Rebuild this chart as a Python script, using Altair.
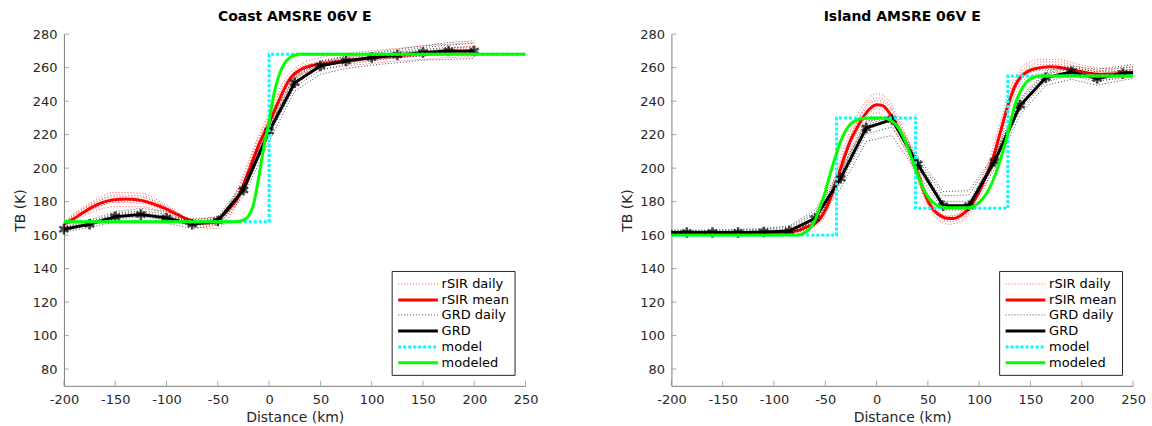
import altair as alt
import pandas as pd

# ---------------------------------------------------------------- series styling
SERIES = ["rSIR daily", "rSIR mean", "GRD daily", "GRD", "model", "modeled"]
COLORS = ["#ff0000", "#ff0000", "#000000", "#000000", "#00ffff", "#00ff00"]
DASHES = [[1, 2], [1, 0], [1, 2], [1, 0], [3, 2], [1, 0]]
WIDTHS = [0.7, 3, 0.7, 3, 3, 3]

X_DOMAIN = [-200, 250]
Y_DOMAIN = [70, 280]
X_TICKS = [-200, -150, -100, -50, 0, 50, 100, 150, 200, 250]
Y_TICKS = [80, 100, 120, 140, 160, 180, 200, 220, 240, 260, 280]

# ---------------------------------------------------------------- Coast panel
COAST_DAILY_X = [-200, -175, -150, -125, -100, -75, -50, -37.5, -25, -12.5, 0,
                 12.5, 25, 37.5, 50, 75, 100, 125, 150, 175, 200]
COAST_RSIR_DAILY = [
    [168, 179, 185.5, 185, 178, 170, 171, 180, 196, 216, 233, 250, 259.5, 264, 266, 268.5, 270, 271.5, 273, 274, 275],
    [165, 173, 177, 177, 172.5, 166, 166.5, 173, 186, 204, 221, 240, 253, 257.5, 259, 261, 262.5, 264, 265, 266, 266.5],
    [167, 177.5, 183, 182.5, 176.5, 168, 168, 175, 189, 208, 226, 246, 258, 262, 263.5, 265, 266.5, 268.5, 270, 271, 272],
    [166, 174.5, 179.5, 179, 174, 167, 167.5, 176.5, 192, 212, 229, 244, 254, 258.5, 260.5, 263, 264.5, 266, 267, 268, 268.5],
    [167.5, 178, 184, 183.5, 177, 169.5, 170, 179, 194, 214, 231, 248, 257.5, 261.5, 263, 266, 267.5, 269, 270, 271.5, 273],
    [165.5, 175, 180, 180, 175.5, 165, 164, 172, 187.5, 206, 224, 242, 255, 259.5, 261, 263, 265, 266, 267.5, 268, 269],
]
COAST_MEAN_X = [-200, -190, -180, -170, -160, -150, -140, -130, -120, -110, -100, -90, -80,
                -70, -60, -50, -40, -30, -20, -10, 0, 10, 20, 30, 40, 50, 60, 80, 100, 125,
                150, 175, 200]
COAST_RSIR_MEAN = [166.5, 170, 174, 177.5, 180, 181.2, 181.5, 181.2, 180, 178, 175.5, 172.5,
                   169.5, 167.5, 167.2, 169.5, 175, 183, 198, 214, 227, 241, 253, 258.5, 261,
                   262, 263, 264.5, 265.8, 267.2, 268.3, 269.2, 270]
COAST_GRD_X = [-200, -175, -150, -125, -100, -75, -50, -25, 0, 25, 50, 75, 100, 125, 150, 175, 200]
COAST_GRD = [163.5, 166.5, 171, 172.3, 170.3, 166.5, 168.5, 187, 222, 251, 261, 264, 266,
             267.5, 269, 270, 270]
COAST_GRD_DAILY = [
    [165, 169, 174, 176, 174, 169, 171, 191, 227, 255, 264, 267, 269, 271, 273, 275, 276],
    [162, 164.5, 168, 169, 167, 164, 166, 183, 216, 246, 256, 259.5, 261.5, 263, 264.5, 265, 265.5],
    [164, 167.5, 172.5, 173.5, 171.5, 167.5, 169.5, 188.5, 224, 253, 262.5, 265.5, 267.5, 269, 271, 272, 272.5],
    [163, 166, 169.5, 171, 169, 165.5, 167.5, 185.5, 219.5, 248.5, 258.5, 262, 264, 266, 267, 268, 268],
    [164.5, 168, 173, 174.5, 172.5, 168, 170, 189.5, 225, 254, 263.5, 266.5, 268.5, 270, 272, 273.5, 274.5],
]
COAST_MODEL_X = [-200, 0, 250]
COAST_MODEL = [168, 268, 268]
COAST_MODELED_X = [-200, -40, -30, -25, -20, -15, -10, -5, 0, 5, 10, 15, 20, 25, 30, 250]
COAST_MODELED = [168, 168, 168.2, 169, 171.5, 179, 195, 213, 228, 245, 256, 262.5, 265.8,
                 267.4, 268, 268]

# ---------------------------------------------------------------- Island panel
ISLAND_DAILY_X = [-200, -150, -100, -80, -60, -50, -40, -30, -20, -10, 0, 10, 20, 30, 40,
                  50, 60, 70, 80, 90, 100, 110, 120, 130, 140, 150, 160, 175, 200, 225, 250]
ISLAND_RSIR_DAILY = [
    [162, 162, 162.5, 164, 170, 179, 196, 215, 230, 240, 244.5, 242, 231, 218, 201, 183, 174,
     171, 173, 179, 190, 205, 226, 247, 259, 263.5, 265, 265, 261.5, 259.5, 260.5],
    [160.5, 160.5, 160.5, 161.5, 165, 172, 187, 204, 218, 228, 233, 230, 220, 208, 193, 177.5,
     169.5, 166.5, 167.5, 172.5, 182, 195, 214, 236, 250, 255, 256.5, 257, 254.5, 253, 254.5],
    [161.5, 161.5, 161.8, 163, 168.5, 177, 193, 211, 226, 236, 240.5, 238, 228, 215, 199, 182,
     174, 171.5, 172.5, 178, 188, 202, 222, 243, 256, 260, 262, 262, 259, 257.5, 258.5],
    [161, 161, 161, 162, 166, 173.5, 189, 207, 220.5, 230.5, 235.5, 232.5, 222.5, 210.5, 195,
     179, 171, 168, 169, 174, 184, 198, 218, 239, 252, 257, 258.5, 259, 256, 255, 256],
    [162, 162, 162.2, 163.5, 169, 177.5, 194, 212, 227, 237.5, 242, 239.5, 229.5, 216.5, 200,
     181.5, 172.5, 169, 170.5, 176.5, 187, 201.5, 221, 244, 257, 261.5, 263.5, 263.5, 260, 258, 259],
]
ISLAND_MEAN_X = [-200, -150, -100, -85, -75, -70, -65, -60, -55, -50, -45, -40, -35, -30, -25,
                 -20, -15, -10, -5, 0, 5, 10, 15, 20, 25, 30, 35, 40, 45, 50, 55, 60, 65, 70,
                 75, 80, 85, 90, 95, 100, 105, 110, 115, 120, 125, 130, 135, 140, 145, 150,
                 160, 170, 180, 190, 200, 210, 220, 230, 240, 250]
ISLAND_RSIR_MEAN = [161, 161, 161.2, 162, 163, 164.5, 165.5, 167, 170, 175, 182, 191, 200, 209,
                    217, 223, 228.5, 233, 236.3, 237.8, 237.5, 235, 230.5, 225, 219, 213, 206,
                    197, 188, 180.5, 175.5, 172.5, 170.7, 170, 170, 171, 173, 176, 180.5, 186,
                    193, 200, 209, 220, 231, 241, 249, 254, 256.8, 258.5, 260, 260.5, 260,
                    258.8, 257.5, 256.5, 256, 256.2, 256.8, 257.3]
ISLAND_GRD_X = [-200, -185, -160, -135, -110, -85, -60, -35, -10, 15, 40, 65, 90, 115, 140,
                165, 190, 215, 240, 250]
ISLAND_GRD = [161.5, 161.5, 161.5, 161.5, 161.8, 162.5, 170, 194, 224, 229, 202.5, 177.5,
              177.5, 204, 237.5, 254, 257.5, 253.5, 256.5, 257]
ISLAND_GRD_MARKED = ISLAND_GRD_X[1:-1]
ISLAND_GRD_DAILY = [
    [163, 163, 163, 163.5, 164, 165.5, 175, 199, 227, 232, 207, 186, 186.5, 208, 242, 258, 261, 259, 261, 262],
    [160.5, 160.5, 160.5, 160.5, 160.8, 161.5, 166, 188, 216, 219.5, 197, 175, 175, 199.5, 232, 249.5, 253, 249.5, 252.5, 253.5],
    [162.3, 162.3, 162.3, 162.5, 162.8, 163.8, 172.5, 196.5, 226, 230.5, 204.5, 180, 180, 206, 240, 256, 259.5, 256, 258.5, 259],
    [161, 161, 161, 161, 161.3, 162, 168, 191, 220.5, 224.5, 200, 176.5, 176.5, 202, 235, 251.5, 255.5, 251.5, 254.5, 255.5],
    [162.8, 162.8, 162.8, 163, 163.5, 164.8, 173.5, 197.5, 228, 231, 205.5, 183.5, 184, 207, 241, 257, 260, 257.5, 260, 260.5],
]
ISLAND_MODEL_X = [-200, -39, 38, 128, 250]
ISLAND_MODEL = [160, 230, 176, 255, 255]
ISLAND_MODELED_X = [-200, -80, -75, -70, -65, -60, -55, -50, -45, -40, -35, -30, -25, -20,
                    -10, 0, 10, 15, 20, 25, 30, 35, 40, 45, 50, 55, 60, 70, 90, 95, 100, 105,
                    110, 115, 120, 125, 130, 135, 140, 145, 150, 155, 160, 250]
ISLAND_MODELED = [160, 160, 160.3, 161.5, 164, 169, 177, 186, 197, 207, 216, 222.5, 226.5,
                  228.5, 229.8, 230, 229.5, 228, 225, 220, 213, 204.5, 196, 188.5, 183, 179.5,
                  177.5, 176.4, 176.4, 177.5, 179.5, 183, 188, 195, 204, 214, 226, 238,
                  245.5, 250.5, 253.3, 254.5, 255, 255]

# asterisk marker used for the GRD samples
ASTERISK = "M0,-1L0,1M-0.87,-0.5L0.87,0.5M-0.87,0.5L0.87,-0.5"
# long horizontal legend swatch (extends beyond the nominal symbol box)
SWATCH = "M-1,0L4.3,0"
FONT = "DejaVu Sans"
AXIS_GREY = "#808080"
ASCII_MINUS = "replace(datum.label, '\u2212', '-')"


def frame(xs, ys, name, run=0):
    return pd.DataFrame({"x": xs, "y": ys, "series": name, "run": run})


def daily_frame(xs, runs, name):
    return pd.concat([frame(xs, ys, name, i) for i, ys in enumerate(runs)], ignore_index=True)


X_ENC = alt.X("x:Q", scale=alt.Scale(domain=X_DOMAIN, nice=False, padding=0),
              axis=alt.Axis(values=X_TICKS, title="Distance (km)", ticks=False, grid=False,
                            labelPadding=8, titlePadding=4, labelFlush=False,
                            labelOverlap=False, labelExpr=ASCII_MINUS))
Y_ENC = alt.Y("y:Q", scale=alt.Scale(domain=Y_DOMAIN, nice=False, zero=False, padding=0),
              axis=alt.Axis(values=Y_TICKS, title="TB (K)", ticks=False, grid=False,
                            labelPadding=7, titlePadding=5, labelFlush=False,
                            labelOverlap=False))
LEGEND = alt.Legend(title=None, symbolType=SWATCH)
COLOR_ENC = alt.Color("series:N", scale=alt.Scale(domain=SERIES, range=COLORS), legend=LEGEND)
DASH_ENC = alt.StrokeDash("series:N", scale=alt.Scale(domain=SERIES, range=DASHES), legend=LEGEND)
WIDTH_ENC = alt.StrokeWidth("series:N",
                            scale=alt.Scale(type="ordinal", domain=SERIES, range=WIDTHS),
                            legend=LEGEND)


def line(df, interp="linear", runs=False):
    enc = dict(x=X_ENC, y=Y_ENC, color=COLOR_ENC, strokeDash=DASH_ENC, strokeWidth=WIDTH_ENC)
    if runs:
        enc["detail"] = "run:N"
    return alt.Chart(df).mark_line(interpolate=interp).encode(**enc)


def panel(title, d):
    layers = [
        line(daily_frame(d["daily_x"], d["rsir_daily"], "rSIR daily"), "monotone", runs=True),
        line(frame(d["mean_x"], d["rsir_mean"], "rSIR mean"), "monotone"),
        line(daily_frame(d["grd_x"], d["grd_daily"], "GRD daily"), "linear", runs=True),
        line(frame(d["grd_x"], d["grd"], "GRD"), "linear"),
        alt.Chart(frame(d["grd_x"], d["grd"], "GRD"))
        .transform_filter(alt.FieldOneOfPredicate(field="x", oneOf=d["marked"]))
        .mark_point(shape=ASTERISK, filled=False, color="black", strokeWidth=2.6, size=110)
        .encode(x=X_ENC, y=Y_ENC),
        line(frame(d["model_x"], d["model"], "model"), "step-after"),
        line(frame(d["modeled_x"], d["modeled"], "modeled"), "monotone"),
        # inward-pointing tick marks on the two drawn axes
        alt.Chart(pd.DataFrame({"x": X_TICKS, "y": Y_DOMAIN[0]}))
        .mark_tick(orient="vertical", color=AXIS_GREY, thickness=1, size=5, yOffset=-2.5)
        .encode(x=X_ENC, y=Y_ENC),
        alt.Chart(pd.DataFrame({"x": X_DOMAIN[0], "y": Y_TICKS}))
        .mark_tick(orient="horizontal", color=AXIS_GREY, thickness=1, size=5, xOffset=2.5)
        .encode(x=X_ENC, y=Y_ENC),
    ]
    return alt.layer(*layers).properties(
        width=462, height=352,
        title=alt.TitleParams(title, fontSize=14, fontWeight="bold", font=FONT,
                              color="black", offset=4),
    )


coast = panel("Coast AMSRE 06V E", dict(
    daily_x=COAST_DAILY_X, rsir_daily=COAST_RSIR_DAILY,
    mean_x=COAST_MEAN_X, rsir_mean=COAST_RSIR_MEAN,
    grd_x=COAST_GRD_X, grd=COAST_GRD, grd_daily=COAST_GRD_DAILY, marked=COAST_GRD_X,
    model_x=COAST_MODEL_X, model=COAST_MODEL,
    modeled_x=COAST_MODELED_X, modeled=COAST_MODELED,
))
island = panel("Island AMSRE 06V E", dict(
    daily_x=ISLAND_DAILY_X, rsir_daily=ISLAND_RSIR_DAILY,
    mean_x=ISLAND_MEAN_X, rsir_mean=ISLAND_RSIR_MEAN,
    grd_x=ISLAND_GRD_X, grd=ISLAND_GRD, grd_daily=ISLAND_GRD_DAILY, marked=ISLAND_GRD_MARKED,
    model_x=ISLAND_MODEL_X, model=ISLAND_MODEL,
    modeled_x=ISLAND_MODELED_X, modeled=ISLAND_MODELED,
))

chart = (
    alt.hconcat(coast, island, spacing=146, bounds="flush")
    .resolve_scale(color="independent", strokeDash="independent", strokeWidth="independent")
    .resolve_legend(color="independent", strokeDash="independent", strokeWidth="independent")
    .properties(padding={"left": 13, "top": 10, "right": 6, "bottom": 4})
    .configure_view(stroke=None)
    .configure_axis(labelFont=FONT, titleFont=FONT, labelFontSize=13, titleFontSize=14,
                    labelColor="#262626", titleColor="#262626", titleFontWeight="normal",
                    domainColor=AXIS_GREY, domainWidth=1)
    .configure_legend(orient="bottom-right", offset=11, fillColor="white", strokeColor="#262626",
                      padding=5, labelFont=FONT, labelFontSize=13, labelColor="#000000",
                      labelAlign="left", symbolSize=225, rowPadding=0, labelOffset=27)
)

chart.save("out.html", embed_options={"renderer": "svg", "actions": False})
